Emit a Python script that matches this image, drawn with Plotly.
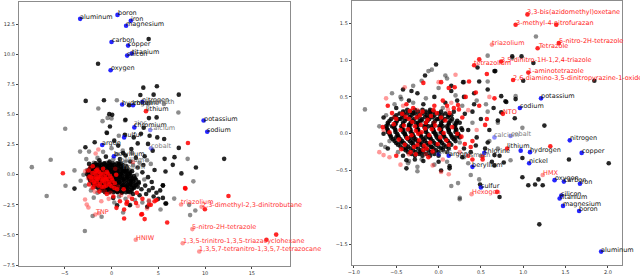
import plotly.graph_objects as go

# ---------------- LEFT PANEL DATA ----------------
L_BLACK = [
    (-2.0,0.5),(-1.6,0.8),(-1.2,0.6),(-0.8,0.9),(-0.4,0.7),(0.0,0.8),(0.4,0.6),(0.8,0.9),(1.2,0.5),(1.6,0.7),
    (-2.2,0.1),(-1.8,0.3),(-1.4,0.2),(-1.0,0.4),(-0.6,0.3),(-0.2,0.4),(0.2,0.2),(0.6,0.3),(1.0,0.1),(1.4,0.3),(1.8,0.1),(2.2,0.3),
    (-2.0,-0.3),(-1.5,-0.1),(-1.1,-0.2),(-0.7,-0.05),(-0.3,-0.2),(0.1,-0.1),(0.5,-0.3),(0.9,-0.2),(1.3,-0.4),(1.7,-0.2),(2.1,-0.5),(2.5,-0.3),(2.9,-0.6),
    (-1.7,-0.7),(-1.2,-0.6),(-0.8,-0.8),(-0.4,-0.5),(0.0,-0.7),(0.4,-0.9),(0.8,-0.6),(1.2,-0.9),(1.6,-1.0),(2.0,-0.8),(2.4,-1.1),(2.8,-1.0),(3.2,-1.2),(3.6,-0.9),(4.0,-1.3),(4.4,-1.1),(4.8,-1.5),(5.2,-1.3),
    (-1.0,-1.1),(-0.5,-1.2),(0.0,-1.3),(0.6,-1.4),(1.1,-1.5),(1.8,-1.4),(2.3,-1.6),(3.0,-1.7),(3.7,-1.6),(4.5,-1.8),(5.0,-2.0),
    (-2.4,0.9),(-1.3,1.2),(-0.2,1.1),(0.9,1.3),(2.0,1.1),(2.8,0.6),(3.3,0.2),(3.9,-0.2),(4.3,-0.6),(3.4,0.8),(2.6,1.4),(1.5,1.6),(-0.6,1.5),(4.6,0.4),(5.5,-0.9),
    (3.97,11.27),(-1.44,9.21),(3.40,7.23),(4.85,7.34),(3.08,6.62),(4.5,6.65),(7.19,6.65),(-2.76,6.13),(-0.81,6.18),(1.88,5.77),
    (-0.24,5.03),(0.07,4.97),(1.49,4.56),(4.0,4.7),(4.82,4.76),(-0.17,4.01),(3.44,3.9),(-0.49,3.46),(1.42,3.32),(3.15,3.4),
    (4.07,3.24),(4.89,3.1),(5.63,2.97),(2.38,3.1),(0.29,2.83),(0.71,2.42),(3.9,2.56),(7.19,2.23),(-2.79,2.28),(1.24,1.81),
    (2.12,2.14),(5.67,1.32),(6.73,1.46),(3.54,1.54),(-3.96,-1.15),(12.04,1.32),(9.02,0.6),(7.47,0.11),(6.55,0.82),(5.77,0.27),
    (5.49,-1.92),(5.77,-2.39),(1.95,-2.53),(0.18,-1.92),(0.6,-2.53),(3.82,-2.66),(5.84,-2.39),(5.49,-0.88),(2.8,2.6),(-1.8,2.7),(4.4,2.0),
]
# dense core of the left panel, row by row: (y, [x values])
L_CORE_BLACK = [
    (0.95, [-1.7,-1.2,-0.75,-0.3,0.15,0.6,1.0]),
    (0.8, [-1.95,-1.5,-1.05,-0.6,-0.15,0.3,0.75,1.2]),
    (0.65, [-2.2,-1.75,-1.3,-0.85,-0.4,0.05,0.5,0.95,1.4]),
    (0.5, [-2.3,-1.85,-1.4,-0.95,-0.5,-0.05,0.4,0.85,1.3,1.7]),
    (0.35, [-2.45,-2.0,-1.55,-1.1,-0.65,-0.2,0.25,0.7,1.15,1.6]),
    (0.2, [-2.5,-2.05,-1.6,-1.15,-0.7,-0.25,0.2,0.65,1.1,1.55,2.0]),
    (0.05, [-2.6,-2.15,-1.7,-1.25,-0.8,-0.35,0.1,0.55,1.0,1.45,1.9]),
    (-0.1, [-2.45,-2.0,-1.55,-1.1,-0.65,-0.2,0.25,0.7,1.15,1.6,2.05,2.4]),
    (-0.25, [-2.4,-1.95,-1.5,-1.05,-0.6,-0.15,0.3,0.75,1.2,1.65,2.1]),
    (-0.4, [-2.3,-1.85,-1.4,-0.95,-0.5,-0.05,0.4,0.85,1.3,1.75,2.2,2.6]),
    (-0.55, [-2.2,-1.75,-1.3,-0.85,-0.4,0.05,0.5,0.95,1.4,1.85,2.3]),
    (-0.7, [-2.0,-1.55,-1.1,-0.65,-0.2,0.25,0.7,1.15,1.6,2.05,2.5,2.9]),
    (-0.85, [-1.9,-1.45,-1.0,-0.55,-0.1,0.35,0.8,1.25,1.7,2.15,2.6]),
    (-1.0, [-1.65,-1.2,-0.75,-0.3,0.15,0.6,1.05,1.5,1.95,2.4]),
    (-1.15, [-1.4,-0.95,-0.5,-0.05,0.4,0.85,1.3,1.75,2.2]),
    (-1.3, [-1.0,-0.55,-0.1,0.35,0.8,1.25,1.7,2.15]),
    (-1.45, [-0.7,-0.25,0.2,0.65,1.1,1.55,2.0]),
]
L_GRAY = [
    (-2.6,0.4),(-2.3,-0.5),(-1.9,1.0),(-1.5,1.4),(-1.1,0.0),(-0.5,1.0),(0.2,1.3),(0.6,1.7),(1.0,0.7),(1.5,1.1),(1.9,0.4),(2.3,0.8),
    (2.7,0.0),(3.0,1.0),(3.5,-0.4),(0.3,-0.4),(-0.3,-0.9),(-2.8,-0.9),(-2.2,-1.3),(-1.5,-1.5),(0.8,-1.8),(1.5,-2.0),(2.5,-2.1),(3.3,-2.3),
    (-3.0,0.0),(-2.7,1.3),(-0.9,1.9),(0.0,2.2),(1.2,2.0),(2.2,1.8),(3.8,1.2),(4.2,0.9),(-3.3,-0.5),(2.0,-2.5),(0.3,-2.3),(-1.9,-1.9),
    (4.0,-2.2),(-0.1,0.3),(-1.3,0.9),
    (0.57,6.18),(5.6,5.88),(-1.41,5.5),(7.15,5.17),(-0.42,4.72),(0.0,4.67),(-0.96,4.45),(-4.95,3.82),(0.78,3.24),(-3.36,1.92),
    (-2.4,1.92),(-6.5,1.24),(8.14,1.32),(-8.52,0.63),(-4.92,-0.91),(-6.93,-1.76),(-2.85,-4.67),(-3.96,0.36),(8.75,-0.55),(-2.02,-3.43),
    (-1.06,-3.49),(1.24,-3.13),(5.24,-2.89),(8.3,-2.5),(8.96,-2.97),(8.4,-3.35),(6.7,-1.98),(1.45,4.51),(-0.53,3.52),
]
L_RED = [
    (-2.2,-0.2),(-1.9,-0.6),(-1.6,-0.3),(-1.4,-0.9),(-1.2,0.1),(-1.0,-0.5),(-0.8,-1.0),(-0.6,-0.4),(-0.4,0.1),(-0.2,-0.8),(0.0,-0.3),
    (0.3,-1.1),(0.5,0.0),(-1.7,0.3),(-2.4,-0.8),(-1.3,-1.4),(-0.5,-1.6),(0.2,-1.8),(0.9,-2.2),(1.6,-2.4),(2.2,-2.0),(1.3,-1.2),
    (-0.9,0.5),(-2.0,0.7),(2.7,-1.5),(3.3,-2.0),(4.2,-2.5),(4.8,-2.1),(-1.4,-0.2),
    (-2.35,-0.15),(-2.15,-0.45),(-2.05,0.15),(-1.9,-0.25),(-1.8,-0.8),(-1.7,0.05),(-1.6,-0.55),(-1.45,-0.35),(-1.35,0.25),
    (-1.25,-0.75),(-1.15,-0.15),(-1.05,-1.0),(-0.95,-0.4),(-0.85,0.1),(-0.75,-0.65),(-0.65,-0.2),(-0.55,-0.9),(-0.45,-0.35),
    (-0.3,-0.6),(-0.15,-0.1),(0.0,-0.95),(0.1,-0.5),(-2.45,0.35),(-1.95,-1.05),(-1.55,0.4),(-0.5,0.25),(0.35,-0.7),(0.6,-1.2),
    (8.17,2.64),(-5.2,0.13),(7.86,-1.1),(5.95,-3.97),(3.18,-3.3),(3.54,-3.68),(0.53,-2.75),(1.35,-2.89),(2.62,-2.34),(4.0,-2.47),
    (4.6,-2.2),(1.35,-3.63),(1.67,-2.25),(3.26,-3.27),(12.5,-1.76),(9.98,-2.86),(7.9,-1.15),(17.6,-4.97),(16.56,-5.4),
]
L_PINK = [
    (-2.5,-0.3),(-2.1,-1.1),(-1.8,-1.4),(-1.1,-1.2),(-0.7,-1.4),(-0.1,-1.5),(0.7,-1.0),(1.0,-1.7),(-1.5,0.5),(-2.8,0.3),(-0.3,-2.0),
    (1.9,-1.8),(2.8,-2.6),(-2.3,0.6),(0.4,0.5),(-0.8,-0.2),(3.8,-2.8),
    (-1.41,2.09),(-1.7,1.76),(2.3,1.05),(-2.83,-2.06),(-2.65,-2.47),(-1.34,-3.19),(-1.09,-2.2),(4.0,-2.12),(-2.47,-2.72),
]
# (label, x, y, kind)
L_LABELS = [
    ("aluminum",-3.35,12.94,"el"),("boron",0.64,13.27,"el"),("iron",2.06,12.78,"el"),("magnesium",1.56,12.37,"el"),
    ("carbon",0.0,11.02,"el"),("copper",1.77,10.72,"el"),("silicon",1.67,9.89,"el"),("titanium",2.16,10.06,"el"),
    ("oxygen",-0.1,8.68,"el"),("hydrogen",1.14,5.83,"el"),("chlorine",2.3,5.77,"el"),("nitrogen",3.3,6.05,"el"),
    ("bismuth",3.9,5.9,"gel"),("lithium",3.68,5.28,"redel"),("potassium",9.84,4.5,"el"),("sodium",10.23,3.57,"el"),
    ("zinc",2.44,4.1,"gtxt"),("chromium",2.44,3.93,"el"),("calcium",4.14,3.71,"elg"),("sulfur",1.35,3.1,"el"),
    ("argon",-0.99,2.47,"el"),("cobalt",4.21,2.2,"elg"),("beryllium",0.25,1.54,"el"),("gallium",0.9,1.05,"gel"),
    ("helium",1.2,0.45,"gel"),
    ("triazolium",7.43,-2.47,"exp"),("2,3-dimethyl-2,3-dinitrobutane",9.63,-2.66,"exp"),
    ("5-nitro-2H-tetrazole",8.64,-4.51,"exp"),("1,3,5-trinitro-1,3,5-triazacyclohexane",7.61,-5.69,"exp"),
    ("1,3,5,7-tetranitro-1,3,5,7-tetrazocane",9.38,-6.37,"exp"),("HNIW",2.59,-5.39,"exp"),("TNP",-1.73,-3.3,"exp"),
]

# ---------------- RIGHT PANEL DATA ----------------
R_BLACK = [
    (-0.55,0.1),(-0.5,-0.05),(-0.45,0.2),(-0.4,0.0),(-0.38,-0.2),(-0.35,0.12),(-0.3,0.28),(-0.3,-0.1),(-0.25,0.05),(-0.22,-0.25),
    (-0.2,0.18),(-0.15,-0.05),(-0.12,0.1),(-0.1,0.3),(-0.08,-0.18),(-0.05,0.02),(0.0,0.2),(0.02,-0.1),(0.05,0.1),(0.1,-0.25),
    (0.12,0.05),(0.15,0.25),(0.2,-0.05),(0.25,0.15),(0.3,-0.2),(0.35,0.05),(0.4,0.3),(-0.6,-0.2),(-0.5,0.35),(-0.42,-0.3),
    (-0.28,-0.35),(-0.18,0.4),(0.0,-0.3),(0.08,0.42),(0.22,0.45),(0.45,-0.05),(0.5,0.2),(0.55,-0.2),(0.3,0.5),(-0.05,0.5),
    (-0.35,0.45),(-0.65,0.0),(-0.33,-0.05),(-0.27,0.15),(-0.2,-0.12),(-0.12,0.22),(-0.45,-0.12),(-0.1,-0.05),(0.05,-0.2),(0.18,0.3),
    (0.28,-0.32),(0.38,-0.25),(0.6,0.05),(0.65,0.35),(0.42,0.55),(0.15,0.58),(-0.25,0.55),(-0.42,0.6),
    (0.87,1.05),(-0.03,0.94),(-0.16,0.79),(0.15,0.65),(0.29,0.70),(0.48,0.71),(0.67,0.85),(0.91,0.47),(0.79,0.44),(0.74,0.29),
    (0.70,0.18),(-0.32,0.58),(-0.65,0.22),(0.42,0.4),(0.31,0.27),(0.98,1.05),(1.12,0.96),(0.46,0.90),(0.66,0.85),(1.84,0.72),
    (1.0,0.72),(0.74,0.51),(1.25,0.11),(0.9,0.21),(0.58,0.6),(0.8,0.43),
    (-0.38,-0.47),(-0.18,-0.37),(0.0,-0.38),(0.13,-0.44),(0.49,-0.69),(0.72,-0.86),(0.63,-0.38),(0.77,-0.39),(0.99,-0.59),
    (1.06,-0.7),(1.14,-0.69),(1.18,-0.62),(1.23,-0.7),(1.54,-0.35),(2.01,-0.4),(1.19,-1.23),(0.99,-0.33),(0.66,-0.29),(0.03,-0.5),
    (-0.38,-0.36),(0.13,-0.47),(0.44,-0.16),(0.58,-0.12),(0.66,-0.43),(0.72,-0.3),
]
R_CORE_BLACK = [
    (0.325, [-0.37,-0.28,-0.19,-0.1]),
    (0.30, [-0.42,-0.33,-0.24,-0.15,-0.06,0.03]),
    (0.275, [-0.46,-0.37,-0.28,-0.19,-0.1,0.0,0.08]),
    (0.25, [-0.5,-0.41,-0.32,-0.23,-0.14,-0.05,0.04,0.12]),
    (0.225, [-0.52,-0.43,-0.34,-0.25,-0.16,-0.07,0.02,0.11]),
    (0.20, [-0.56,-0.47,-0.38,-0.29,-0.2,-0.11,-0.02,0.07,0.16]),
    (0.175, [-0.58,-0.49,-0.4,-0.31,-0.22,-0.13,-0.04,0.05,0.14,0.22]),
    (0.15, [-0.6,-0.51,-0.42,-0.33,-0.24,-0.15,-0.06,0.03,0.12,0.21]),
    (0.125, [-0.6,-0.51,-0.42,-0.33,-0.24,-0.15,-0.06,0.03,0.12,0.2]),
    (0.10, [-0.62,-0.53,-0.44,-0.35,-0.26,-0.17,-0.08,0.01,0.1,0.19]),
    (0.075, [-0.61,-0.52,-0.43,-0.34,-0.25,-0.16,-0.07,0.02,0.11,0.2,0.27]),
    (0.05, [-0.6,-0.51,-0.42,-0.33,-0.24,-0.15,-0.06,0.03,0.12,0.21,0.28]),
    (0.025, [-0.6,-0.51,-0.42,-0.33,-0.24,-0.15,-0.06,0.03,0.12,0.2]),
    (0.00, [-0.58,-0.49,-0.4,-0.31,-0.22,-0.13,-0.04,0.05,0.14,0.23]),
    (-0.025, [-0.57,-0.48,-0.39,-0.3,-0.21,-0.12,-0.03,0.06,0.15,0.24]),
    (-0.05, [-0.56,-0.47,-0.38,-0.29,-0.2,-0.11,-0.02,0.07,0.16,0.25]),
    (-0.075, [-0.54,-0.45,-0.36,-0.27,-0.18,-0.09,0.0,0.09,0.18]),
    (-0.10, [-0.52,-0.43,-0.34,-0.25,-0.16,-0.07,0.02,0.11,0.2]),
    (-0.125, [-0.5,-0.41,-0.32,-0.23,-0.14,-0.05,0.04,0.13]),
    (-0.15, [-0.48,-0.39,-0.3,-0.21,-0.12,-0.03,0.06,0.15]),
    (-0.175, [-0.45,-0.36,-0.27,-0.18,-0.09,0.0,0.09]),
    (-0.20, [-0.42,-0.33,-0.24,-0.15,-0.06,0.03,0.12]),
    (-0.225, [-0.39,-0.3,-0.21,-0.12,-0.03,0.05]),
    (-0.25, [-0.36,-0.27,-0.18,-0.09,0.0]),
    (-0.275, [-0.32,-0.23,-0.14,-0.05]),
    (-0.30, [-0.28,-0.19,-0.1]),
]
R_GRAY = [
    (-0.62,0.25),(-0.58,-0.1),(-0.52,0.4),(-0.48,-0.25),(-0.4,0.3),(-0.36,-0.4),(-0.3,0.42),(-0.2,-0.35),(-0.15,0.48),(-0.05,-0.42),
    (0.05,0.35),(0.1,-0.38),(0.2,0.52),(0.28,0.38),(0.35,-0.4),(0.45,0.45),(0.5,-0.3),(0.58,0.3),(0.6,-0.1),(-0.7,0.1),
    (-0.68,-0.15),(-0.55,0.55),(-0.3,0.65),(0.0,0.62),(0.3,0.7),(0.1,0.75),(-0.2,0.72),(-0.12,0.85),(0.7,0.15),(-0.45,0.5),
    (-0.25,-0.45),(0.0,0.0),(-0.15,0.28),(0.25,-0.12),(-0.5,0.15),(0.18,0.15),(-0.38,0.05),(0.7,-0.2),(0.4,0.15),
    (-0.87,0.33),(0.58,1.06),(-0.08,0.87),(0.58,0.71),(0.99,0.08),(-0.44,0.47),(0.56,0.4),(1.15,1.32),(0.87,1.03),(0.08,0.79),
    (0.91,0.51),(-0.63,-0.18),(-0.35,-0.37),(0.15,-0.71),(0.23,-0.67),(0.25,-0.87),(0.38,-0.56),(0.48,-0.62),(0.85,-0.36),
    (-0.25,-0.51),(0.25,-0.89),
]
R_RED = [
    (-0.45,0.05),(-0.4,-0.15),(-0.35,0.2),(-0.32,-0.02),(-0.28,0.1),(-0.25,-0.15),(-0.22,0.25),(-0.2,0.02),(-0.18,-0.22),(-0.15,0.15),
    (-0.1,-0.12),(-0.08,0.06),(-0.02,0.28),(0.02,-0.05),(0.08,0.18),(0.12,-0.15),(0.18,0.35),(0.22,0.0),(0.28,0.22),(-0.5,-0.3),
    (-0.55,0.28),(-0.3,0.35),(-0.38,0.4),(0.05,0.45),(0.32,0.5),(0.12,0.62),(-0.6,0.38),(0.4,-0.1),(0.48,0.38),(-0.12,-0.32),
    (0.55,0.12),(-0.27,-0.28),(-0.05,0.38),(0.35,-0.3),
    (-0.53,0.13),(-0.47,-0.08),(-0.43,0.27),(-0.41,0.11),(-0.37,-0.06),(-0.34,0.31),(-0.31,0.16),(-0.29,-0.18),(-0.26,0.22),
    (-0.24,0.0),(-0.23,-0.09),(-0.21,0.12),(-0.19,0.3),(-0.17,-0.16),(-0.16,0.07),(-0.13,0.19),(-0.11,-0.02),(-0.09,0.24),
    (-0.07,-0.24),(-0.04,0.11),(-0.01,-0.14),(0.03,0.22),(0.06,0.01),(0.09,-0.09),(0.13,0.28),(0.16,0.09),(0.2,-0.19),
    (0.24,0.33),(0.27,-0.04),(-0.58,0.02),(-0.5,0.2),(-0.44,-0.21),(-0.36,0.06),(-0.33,-0.25),(-0.27,0.04),(-0.14,-0.2),
    (-0.06,0.32),(0.01,0.06),(0.1,0.38),(-0.39,0.23),
    (1.39,1.48),(0.48,1.01),(0.19,0.63),(0.03,0.7),(0.36,0.71),(0.57,0.81),(0.57,0.2),(-0.18,0.69),(-0.66,0.09),(0.44,0.56),
    (0.23,0.39),(0.66,0.48),(0.69,-0.79),(1.32,-0.17),(0.40,-0.35),(0.52,-0.31),(0.31,-0.14),(0.38,-0.18),(0.52,-0.35),
]
R_PINK = [
    (-0.65,0.05),(-0.58,-0.32),(-0.52,0.22),(-0.42,0.38),(-0.35,-0.28),(-0.25,0.32),(-0.15,-0.28),(-0.05,0.15),(0.05,-0.35),(0.15,0.42),
    (0.25,-0.25),(0.35,0.32),(0.45,0.05),(-0.7,-0.25),(-0.62,0.48),(0.2,0.8),(0.0,0.7),(0.6,0.5),(-0.45,-0.42),
    (-0.40,0.63),(0.11,0.33),(-0.65,-0.29),(0.12,-0.55),(-0.07,-0.43),(0.03,-0.52),
]
R_LABELS = [
    ("3,3-bis(azidomethyl)oxetane",1.05,1.62,"ex"),("3-methyl-4-nitrofurazan",0.91,1.48,"ex"),
    ("triazolium",0.63,1.21,"exp"),("Tetrazole",1.17,1.16,"ex"),("5-nitro-2H-tetrazole",1.42,1.23,"ex"),
    ("3,5-dinitro-1H-1,2,4-triazole",0.74,0.98,"ex"),("tetrazolium",0.42,0.93,"ex"),
    ("1-aminotetrazole",1.06,0.83,"ex"),("2,6-diamino-3,5-dinitropyrazine-1-oxide",0.88,0.73,"ex"),
    ("NTO",0.76,0.27,"ex"),("HMX",1.23,-0.56,"exp"),("Hexogen",0.39,-0.82,"exp"),
    ("potassium",1.21,0.48,"el"),("sodium",0.96,0.35,"el"),("calcium",0.66,-0.05,"elg"),("cobalt",0.85,-0.03,"elg"),
    ("nitrogen",1.55,-0.09,"el"),("copper",1.69,-0.26,"el"),("lithium",0.81,-0.2,"redel"),("hydrogen",1.08,-0.25,"el"),
    ("chlorine",0.54,-0.26,"el"),("nickel",1.07,-0.4,"el"),("beryllium",0.4,-0.45,"el"),("oxygen",1.37,-0.63,"el"),
    ("carbon",1.48,-0.65,"el"),("iron",1.67,-0.68,"el"),("sulfur",0.5,-0.73,"el"),("silicon",1.45,-0.84,"el"),
    ("titanium",1.43,-0.88,"el"),("magnesium",1.47,-0.98,"el"),("boron",1.66,-1.05,"el"),("aluminum",1.92,-1.6,"el"),
    ("zinc",0.0,-0.28,"elg"),("argon",0.12,-0.3,"el"),("bismuth",0.3,-0.32,"gel"),("",0.97,-0.23,"el"),
]

L_XTICKS = [-5, 0, 5, 10, 15]
L_YTICKS = [-7.5, -5.0, -2.5, 0.0, 2.5, 5.0, 7.5, 10.0, 12.5]
R_XTICKS = [-1.0, -0.5, 0.0, 0.5, 1.0, 1.5, 2.0]
R_YTICKS = [-1.5, -1.0, -0.5, 0.0, 0.5, 1.0, 1.5]

# ---------------- STYLES ----------------
C_BLACK = "rgba(0,0,0,0.85)"
C_GRAY = "rgba(0,0,0,0.45)"
C_RED = "rgba(255,0,0,0.85)"
C_PINK = "rgba(255,0,0,0.4)"
KIND_POINT = {"el": "rgba(0,0,255,0.85)", "elg": "rgba(0,0,255,0.45)", "ex": C_RED, "exp": C_PINK,
              "redel": C_RED, "gel": C_GRAY, "gtxt": None}
KIND_TEXT = {"el": "#111111", "elg": "#808080", "ex": "#ff1a1a", "exp": "#ff3333",
             "redel": "#111111", "gel": "#666666", "gtxt": "#808080"}
MS = 4.6

fig = go.Figure()


def rows_to_points(rows):
    return [(x, y) for y, xs in rows for x in xs]


def add_panel(xa, ya, black, gray, red, pink, labels):
    for pts, col in ((gray, C_GRAY), (black, C_BLACK), (pink, C_PINK), (red, C_RED)):
        fig.add_trace(go.Scatter(
            x=[p[0] for p in pts], y=[p[1] for p in pts], mode="markers",
            marker=dict(size=MS, color=col, line=dict(width=0)),
            xaxis=xa, yaxis=ya, showlegend=False, hoverinfo="skip"))
    pl = [l for l in labels if KIND_POINT[l[3]] is not None]
    fig.add_trace(go.Scatter(
        x=[l[1] for l in pl], y=[l[2] for l in pl], mode="markers",
        marker=dict(size=MS, color=[KIND_POINT[l[3]] for l in pl], line=dict(width=0)),
        xaxis=xa, yaxis=ya, showlegend=False, hoverinfo="skip"))
    for name, x, y, kind in labels:
        if not name:
            continue
        fig.add_annotation(x=x, y=y, xref=xa, yref=ya, text=name, showarrow=False,
                           xanchor="left", yanchor="bottom", xshift=-2, yshift=-4,
                           font=dict(family="DejaVu Sans", size=6.5, color=KIND_TEXT[kind]))


add_panel("x", "y", L_BLACK + rows_to_points(L_CORE_BLACK), L_GRAY, L_RED, L_PINK, L_LABELS)
add_panel("x2", "y2", R_BLACK + rows_to_points(R_CORE_BLACK), R_GRAY, R_RED, R_PINK, R_LABELS)

axis_common = dict(showgrid=False, zeroline=False, showline=True, mirror=True, linecolor="#8c8c8c",
                   linewidth=1, ticks="outside", ticklen=2, tickwidth=0.8, tickcolor="#444",
                   tickfont=dict(family="DejaVu Sans", size=5, color="#333"))

fig.update_layout(
    width=640, height=276, margin=dict(l=0, r=0, t=0, b=0),
    paper_bgcolor="white", plot_bgcolor="white", showlegend=False,
    xaxis=dict(domain=[15/640, 288/640], range=[-9.9, 19.1], tickvals=L_XTICKS, tickformat="d", **axis_common),
    yaxis=dict(domain=[8/276, 274/276], range=[-7.58, 14.34], tickvals=L_YTICKS, tickformat=".1f", **axis_common),
    xaxis2=dict(domain=[350/640, 622/640], range=[-1.025, 2.168], tickvals=R_XTICKS, tickformat=".1f",
                anchor="y2", **axis_common),
    yaxis2=dict(domain=[9.3/276, 275/276], range=[-1.779, 1.802], tickvals=R_YTICKS, tickformat=".1f",
                anchor="x2", **axis_common),
)

fig.write_html("out.html", config={"displayModeBar": False},
               post_script="document.body.style.margin='0';document.body.style.overflow='hidden';")
